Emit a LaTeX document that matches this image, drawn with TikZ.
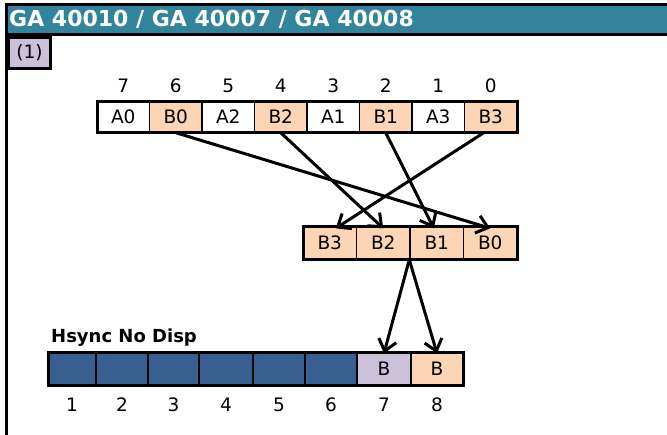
\documentclass[tikz,border=0pt]{standalone}
\usepackage{fontspec}
\setmainfont{DejaVu Sans}
\usetikzlibrary{arrows.meta}
\definecolor{teal1}{HTML}{31849B}
\definecolor{lilac}{HTML}{CCC0DA}
\definecolor{peach}{HTML}{FCD5B4}
\definecolor{navy1}{HTML}{376091}
\tikzset{
  cell/.style={draw, line width=1.4pt, minimum height=31pt, inner sep=0pt, font=\fontsize{18.5}{20}\selectfont},
  lbl/.style={inner sep=0pt, font=\fontsize{18.5}{20}\selectfont},
  outer/.style={draw, line width=3pt},
  arr/.style={line width=3pt, -{Straight Barb[length=11pt,width=18pt,line width=3pt]}},
}
\begin{document}
\begin{tikzpicture}[x=1pt,y=-1pt]
\useasboundingbox (0,0) rectangle (667,434);
\clip (0,0) rectangle (667,434);
\fill[white] (0,0) rectangle (667,434);
% frame
\draw[line width=2.6pt] (6.5,3) -- (6.5,440);
\draw[fill=teal1, line width=3pt] (6,4.5) rectangle (680,34.5);
\node[anchor=west, inner sep=0pt, text=white, font=\bfseries\fontsize{22}{24}\selectfont] (title) at (9,19.5) {GA 40010 / GA 40007 / GA 40008};
\node[draw, line width=2.8pt, fill=lilac, minimum width=42pt, minimum height=31pt, inner sep=0pt, anchor=north west, font=\fontsize{18.5}{20}\selectfont] (one) at (7,36) {(1)};
% top register
\foreach \t/\c/\n [count=\i from 0] in {A0/white/7, B0/peach/6, A2/white/5, B2/peach/4, A1/white/3, B1/peach/2, A3/white/1, B3/peach/0} {
  \node[cell, fill=\c, minimum width=52.5pt] (t\t) at (97+26.25+52.5*\i, 116.5) {\t};
  \node[lbl] (tn\n) at (97+26.25+52.5*\i, 86) {\n};
}
\draw[outer] (97,101) rectangle (517,132);
% middle register
\foreach \t [count=\i from 0] in {B3,B2,B1,B0} {
  \node[cell, fill=peach, minimum width=53.5pt, minimum height=33pt] (m\t) at (303+26.75+53.5*\i, 242.5) {\t};
}
\draw[outer] (303,226) rectangle (517,259);
% bottom register
\foreach \a/\b/\c/\t in {48/96/navy1/, 96/148/navy1/, 148/199/navy1/, 199/253/navy1/, 253/305/navy1/, 305/357/navy1/, 357/411/lilac/B, 411/463/peach/B} {
  \node[cell, fill=\c, minimum width=\b-\a, minimum height=33pt] (b\a) at ({(\a+\b)/2}, 368.5) {\t};
}
\foreach \a/\b/\n in {48/96/1, 96/148/2, 148/199/3, 199/253/4, 253/305/5, 305/357/6, 357/411/7, 411/463/8} {
  \node[lbl] (bn\n) at ({(\a+\b)/2}, 405) {\n};
}
\draw[outer] (48,352) rectangle (463,385);
\node[anchor=west, inner sep=0pt, font=\bfseries\fontsize{18}{20}\selectfont] (hs) at (51,338) {Hsync No Disp};
% arrows
\draw[arr] (tB0.south) -- ([yshift=-3pt]mB0.north);
\draw[arr] (tB2.south) -- ([yshift=-3pt]mB2.north);
\draw[arr] (tB1.south) -- ([xshift=-3pt,yshift=-3pt]mB1.north);
\draw[arr] ([xshift=-7pt]tB3.south) -- ([xshift=6pt,yshift=-3pt]mB3.north);
\coordinate (src) at (mB1.south west);
\draw[arr] (src) -- ([yshift=-2pt]b357.north);
\draw[arr] (src) -- ([yshift=-2pt]b411.north);
\end{tikzpicture}
\end{document}
